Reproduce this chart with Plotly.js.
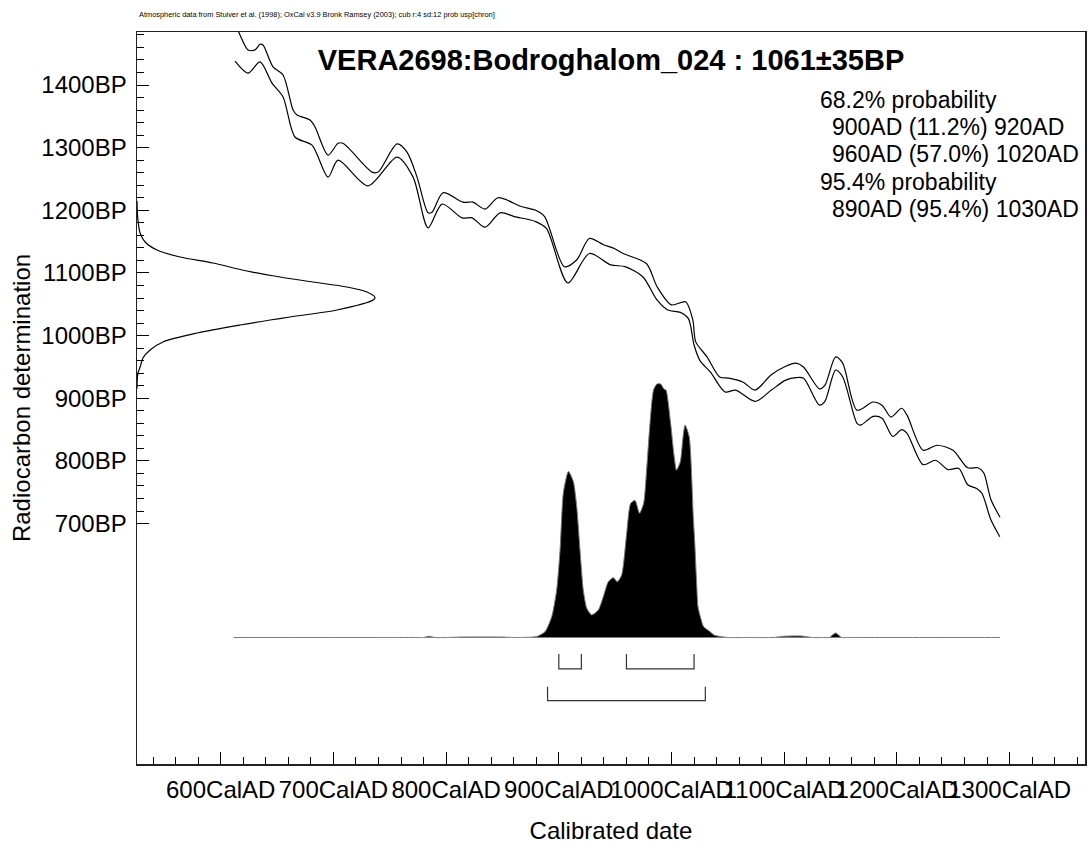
<!DOCTYPE html>
<html>
<head>
<meta charset="utf-8">
<script src="https://cdn.plot.ly/plotly-3.0.1.min.js"></script>
<style>html,body{margin:0;padding:0;background:#fff;}#chart{width:1090px;height:844px;}</style>
</head>
<body>
<div id="chart"></div>
<script>
// Calibration curve, upper edge (cal AD year, radiocarbon BP)
const upperYear = [611, 615.5, 624.2, 630.4, 634.9, 637.5, 646.4, 655.3, 664.2, 667.7, 679.2, 683.7, 695.2, 704.1, 708.5, 734.3, 739.6, 756.5, 765.3, 774.2, 784.0, 787.5, 797.3, 815.0, 823.9, 834.5, 846.1, 866.8, 879.5, 887.4, 904.9, 916.0, 927.1, 939.7, 949.2, 957.1, 977.7, 987.2, 999.9, 1012.5, 1018.9, 1021.5, 1031.5, 1042.7, 1050.6, 1063.3, 1074.1, 1088.3, 1101.3, 1110.5, 1117.1, 1131.3, 1136.2, 1145.6, 1151.9, 1164.6, 1178.8, 1186.8, 1194.8, 1204.2, 1209.0, 1223.2, 1235.6, 1249.8, 1262.8, 1272.0, 1277.0, 1283.5, 1291.5];
const upperBP   = [1500, 1486, 1456, 1456, 1465, 1464, 1429, 1416, 1360, 1352, 1344, 1333, 1288, 1307, 1307, 1261, 1261, 1306, 1293, 1253, 1196, 1197, 1228, 1213, 1213, 1202, 1220, 1206, 1200, 1190, 1110, 1121, 1155, 1145, 1139, 1131, 1115, 1078, 1049, 1054, 1025, 990, 966, 934, 932, 926, 913, 937, 951, 956, 950, 915, 921, 966, 956, 881, 894, 889, 870, 884, 873, 817, 825, 817, 789, 789, 781, 738, 710];
// Calibration curve, lower edge
const lowerYear = [612.7, 624.2, 634.9, 645.5, 655.3, 665.9, 681.0, 695.2, 704.1, 730.7, 756.5, 770.7, 784.0, 796.4, 814.1, 823.0, 834.5, 847.9, 860.5, 879.5, 889.0, 908.0, 927.1, 946.1, 958.8, 974.5, 987.1, 996.7, 1007.8, 1015.0, 1020.0, 1025.3, 1034.4, 1047.5, 1056.9, 1074.3, 1088.6, 1101.3, 1110.8, 1117.2, 1131.3, 1136.1, 1145.6, 1151.9, 1164.6, 1167.8, 1178.9, 1186.8, 1196.3, 1204.2, 1209.0, 1223.2, 1234.3, 1245.4, 1255.0, 1262.8, 1270.7, 1275.5, 1283.4, 1291.3];
const lowerBP   = [1438, 1419, 1437, 1403, 1381, 1317, 1304, 1253, 1280, 1239, 1285, 1253, 1172, 1210, 1188, 1188, 1173, 1196, 1190, 1182, 1171, 1084, 1131, 1113, 1110, 1094, 1057, 1041, 1037, 1027, 985, 960, 942, 910, 913, 895, 913, 929, 933, 932, 889, 895, 945, 934, 860, 857, 871, 868, 839, 850, 844, 794, 801, 786, 788, 762, 756, 748, 706, 679];

// Calibrated probability distribution (relative, peak = 1)
const distYear = [611.5, 650, 700, 740, 775, 780, 785, 790, 800, 815, 850, 860, 865.6, 880.4, 887.8, 893.7, 898.1, 901.1, 904.0, 908.5, 912.9, 915.9, 918.8, 921.7, 924.8, 929.2, 935.0, 939.5, 943.9, 948.4, 951.9, 955.8, 960.2, 963.6, 967.6, 971.6, 975.3, 977.7, 980.9, 984.0, 987.1, 990.4, 993.3, 995.1, 999.2, 1002.2, 1004.4, 1007.8, 1010.2, 1012.0, 1015.7, 1019.3, 1020.5, 1022.3, 1023.5, 1026.4, 1028.4, 1034.2, 1037.7, 1043.1, 1050.6, 1070, 1090, 1100, 1115, 1125, 1135, 1140, 1145.6, 1151, 1156, 1170, 1200, 1240, 1270, 1291.5];
const distProb = [0, 0, 0, 0, 0, 0, 0.005, 0, 0, 0.002, 0.002, 0, 0, 0.004, 0.023, 0.082, 0.187, 0.345, 0.57, 0.655, 0.615, 0.516, 0.345, 0.187, 0.115, 0.089, 0.108, 0.161, 0.22, 0.236, 0.22, 0.247, 0.41, 0.528, 0.541, 0.49, 0.53, 0.648, 0.845, 0.976, 1.0, 1.0, 0.98, 0.976, 0.845, 0.72, 0.66, 0.693, 0.79, 0.838, 0.792, 0.475, 0.385, 0.214, 0.121, 0.069, 0.043, 0.023, 0.01, 0.004, 0, 0, 0, 0.005, 0.006, 0, 0, 0, 0.018, 0, 0, 0, 0, 0, 0, 0];

// Radiocarbon measurement 1061±35 BP, drawn on the y axis (relative density)
const gaussBP = [1215, 1200, 1184.5, 1163.8, 1149.4, 1136.6, 1125.5, 1115.9, 1103.1, 1093.5, 1085.6, 1077.6, 1069.6, 1060.8, 1056.8, 1040.9, 1029.7, 1016.9, 1004.1, 989.8, 977.0, 964.2, 949.9, 940.3, 929.1, 915];
const gaussDensity = [0, 0.001, 0.004, 0.013, 0.034, 0.084, 0.181, 0.319, 0.462, 0.601, 0.739, 0.882, 0.966, 1.0, 0.992, 0.84, 0.643, 0.433, 0.252, 0.109, 0.055, 0.025, 0.013, 0.004, 0.001, 0];

// Highest probability ranges
const range68 = [[900, 920], [960, 1020]];
const range95 = [[890, 1030]];

// Axis ticks
const xTickVals = [600, 700, 800, 900, 1000, 1100, 1200, 1300];
const xTickText = ['600CalAD', '700CalAD', '800CalAD', '900CalAD', '1000CalAD', '1100CalAD', '1200CalAD', '1300CalAD'];
const yTickVals = [700, 800, 900, 1000, 1100, 1200, 1300, 1400];
const yTickText = ['700BP', '800BP', '900BP', '1000BP', '1100BP', '1200BP', '1300BP', '1400BP'];
const titleText = 'VERA2698:Bodroghalom_024 : 1061±35BP';
const noteText = 'Atmospheric data from Stuiver et al. (1998); OxCal v3.9 Bronk Ramsey (2003); cub r:4 sd:12 prob usp[chron]';
const probLines = ['68.2% probability', '900AD (11.2%) 920AD', '960AD (57.0%) 1020AD', '95.4% probability', '890AD (95.4%) 1030AD'];
const probIndent = [false, true, true, false, true];

const xMinor = []; for (let v = 540; v <= 1360; v += 20) xMinor.push(v);
const yMinor = []; for (let v = 700; v <= 1480; v += 20) yMinor.push(v);

const FONT = 'Liberation Sans, Arial, sans-serif';
const traces = [];

traces.push({x: distYear, y: distProb, xaxis: 'x', yaxis: 'y2', type: 'scatter', mode: 'lines',
  fill: 'tozeroy', fillcolor: '#000', line: {color: '#7a7a7a', width: 1, shape: 'spline', smoothing: 0.6}, hoverinfo: 'skip'});
traces.push({x: upperYear, y: upperBP, type: 'scatter', mode: 'lines', line: {color: '#000', width: 1.2, shape: 'spline', smoothing: 0.8}, hoverinfo: 'skip'});
traces.push({x: lowerYear, y: lowerBP, type: 'scatter', mode: 'lines', line: {color: '#000', width: 1.2, shape: 'spline', smoothing: 0.8}, hoverinfo: 'skip'});
traces.push({x: gaussDensity, y: gaussBP, xaxis: 'x2', yaxis: 'y', type: 'scatter', mode: 'lines', line: {color: '#000', width: 1.2, shape: 'spline', smoothing: 0.8}, hoverinfo: 'skip'});

function bracket(r, top, bot) {
  return {x: [r[0], r[0], r[1], r[1]], y: [top, bot, bot, top], xaxis: 'x', yaxis: 'y2', type: 'scatter', mode: 'lines',
    line: {color: '#333', width: 1.2}, hoverinfo: 'skip'};
}
range68.forEach(r => traces.push(bracket(r, -0.065, -0.124)));
range95.forEach(r => traces.push(bracket(r, -0.194, -0.249)));

const annotations = [{
  text: noteText, xref: 'paper', yref: 'paper', x: 0, y: 1 + 17/732, xanchor: 'left', yanchor: 'middle',
  showarrow: false, font: {family: FONT, size: 7.4, color: '#000'}
}];
const lineY = [100, 127, 154, 182, 209];
probLines.forEach((t, i) => annotations.push({
  text: t, xref: 'paper', yref: 'paper', x: ((probIndent[i] ? 830 : 818) - 137) / 948, y: (764 - lineY[i]) / 732,
  xanchor: 'left', yanchor: 'middle', showarrow: false, font: {family: FONT, size: 23, color: '#000'}
}));

const layout = {
  width: 1090, height: 844,
  margin: {l: 137, r: 5, t: 32, b: 80, pad: 0},
  paper_bgcolor: '#fff', plot_bgcolor: '#fff',
  showlegend: false,
  title: {text: '<b>' + titleText + '</b>', font: {family: FONT, size: 29, color: '#000'},
    xref: 'paper', x: 0.5, xanchor: 'center', yref: 'container', y: 1 - 60/844, yanchor: 'middle'},
  xaxis: {
    range: [525.7, 1366.9], tickmode: 'array', tickvals: xTickVals, ticktext: xTickText, tickangle: 0,
    ticks: 'inside', ticklen: 12, tickwidth: 1, tickcolor: '#000',
    minor: {tickmode: 'array', tickvals: xMinor, ticks: 'inside', ticklen: 7, tickwidth: 1, tickcolor: '#000', showgrid: false},
    showline: true, mirror: true, linecolor: '#222', linewidth: 1.5, showgrid: false, zeroline: false,
    tickfont: {family: FONT, size: 24, color: '#000'}, ticklabelstandoff: 4,
    title: {text: 'Calibrated date', font: {family: FONT, size: 24, color: '#000'}, standoff: 25}
  },
  yaxis: {
    range: [316.2, 1484.6], tickmode: 'array', tickvals: yTickVals, ticktext: yTickText,
    ticks: 'inside', ticklen: 12, tickwidth: 1, tickcolor: '#000',
    minor: {tickmode: 'array', tickvals: yMinor, ticks: 'inside', ticklen: 7, tickwidth: 1, tickcolor: '#000', showgrid: false},
    showline: true, mirror: true, linecolor: '#222', linewidth: 1.5, showgrid: false, zeroline: false,
    tickfont: {family: FONT, size: 24, color: '#000'}, ticklabelstandoff: 4,
    title: {text: 'Radiocarbon determination', font: {family: FONT, size: 24, color: '#000'}, standoff: 4}
  },
  xaxis2: {overlaying: 'x', range: [0, 3.983], visible: false, showgrid: false, zeroline: false},
  yaxis2: {overlaying: 'y', range: [-0.499, 2.3885], visible: false, showgrid: false, zeroline: false},
  annotations: annotations
};

Plotly.newPlot('chart', traces, layout, {displayModeBar: false, staticPlot: true});
</script>
</body>
</html>
